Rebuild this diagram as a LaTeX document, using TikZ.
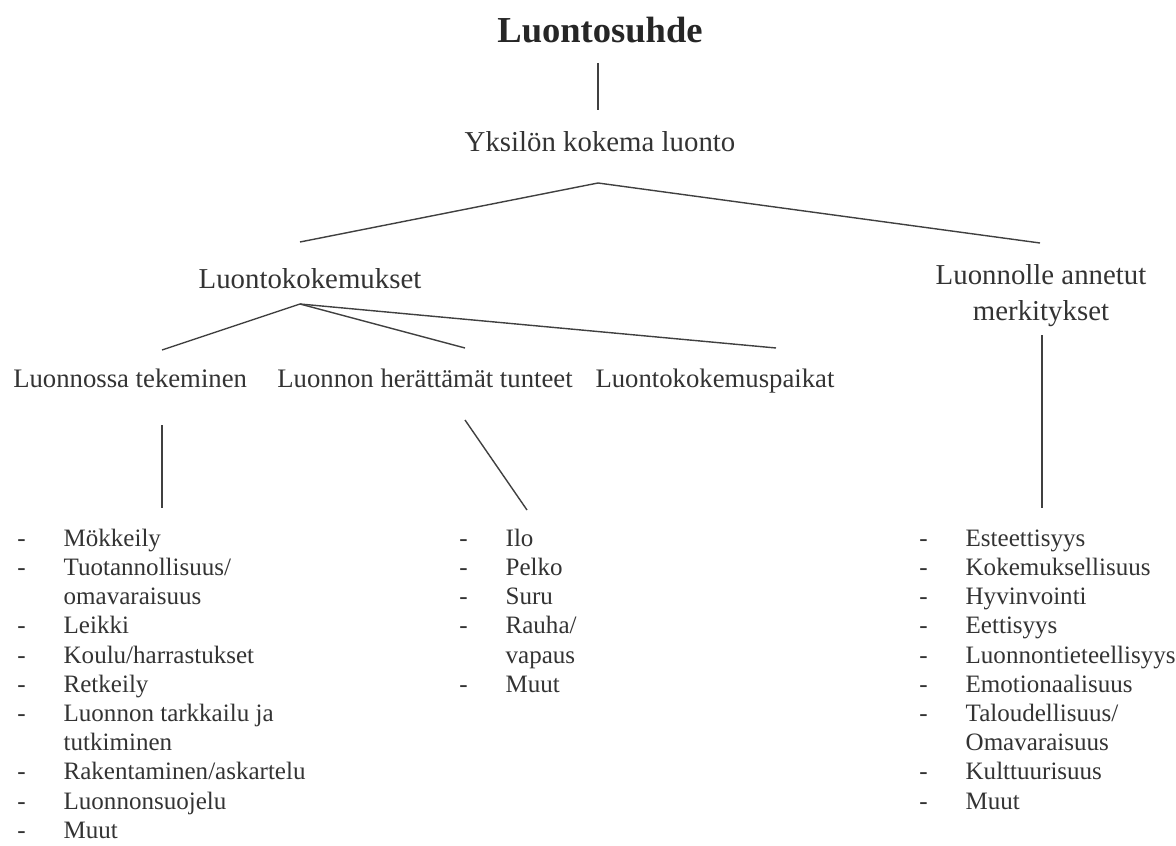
\documentclass[tikz,border=0pt]{standalone}
\usepackage{fontspec}
\setmainfont{Liberation Serif}
\usetikzlibrary{positioning}
\usetikzlibrary{calc}

\begin{document}
\begin{tikzpicture}[x=0.025cm, y=-0.025cm,
                titlenode/.style={inner sep=0pt, anchor=base, text=black!85, font=\fontsize{26}{31}\selectfont\bfseries},
                labelnode/.style={inner sep=0pt, anchor=base, text=black!80, font=\fontsize{20.5}{25.6}\selectfont},
                sublabelnode/.style={inner sep=0pt, anchor=base, text=black!80, font=\fontsize{19}{23}\selectfont},
                listnode/.style={inner sep=0pt, anchor=base west, text=black!80, font=\fontsize{17.8}{20.8}\selectfont},
                connector/.style={draw=black!75, line width=1pt},
                ]
                \useasboundingbox (0,0) rectangle (1176,846);

                \node[titlenode] (title) at (600,43) {Luontosuhde};
                \node[labelnode] (yksilo) at (600,152) {Yksilön kokema luonto};
                \node[labelnode] (kokemukset) at (310,289) {Luontokokemukset};
                \node[labelnode] (merkitykset) at (1041,285) {\begin{tabular}[t]{@{}c@{}}Luonnolle annetut\\merkitykset\end{tabular}};

                \node[sublabelnode, anchor=base west] (tekeminen) at (13,387) {Luonnossa tekeminen};
                \node[sublabelnode] (tunteet) at (425,387) {Luonnon herättämät tunteet};
                \node[sublabelnode] (paikat) at (715,387) {Luontokokemuspaikat};

                % lists
                \node[listnode] (tekemiset) at (17,546) {\begin{tabular}[t]{@{}p{33pt}@{}l@{}}
                    - & Mökkeily\\
                    - & Tuotannollisuus/\\
                      & omavaraisuus\\
                    - & Leikki\\
                    - & Koulu/harrastukset\\
                    - & Retkeily\\
                    - & Luonnon tarkkailu ja\\
                      & tutkiminen\\
                    - & Rakentaminen/askartelu\\
                    - & Luonnonsuojelu\\
                    - & Muut
                \end{tabular}};
                \node[listnode] (tunnelista) at (459,546) {\begin{tabular}[t]{@{}p{33pt}@{}l@{}}
                    - & Ilo\\
                    - & Pelko\\
                    - & Suru\\
                    - & Rauha/\\
                      & vapaus\\
                    - & Muut
                \end{tabular}};
                \node[listnode] (merkityslista) at (919,546) {\begin{tabular}[t]{@{}p{33pt}@{}l@{}}
                    - & Esteettisyys\\
                    - & Kokemuksellisuus\\
                    - & Hyvinvointi\\
                    - & Eettisyys\\
                    - & Luonnontieteellisyys\\
                    - & Emotionaalisuus\\
                    - & Taloudellisuus/\\
                      & Omavaraisuus\\
                    - & Kulttuurisuus\\
                    - & Muut
                \end{tabular}};

                \draw[connector] ($(title.base)+(-2,20)$) -- ($(yksilo.base)+(-2,-42)$);
                \draw[connector] ($(kokemukset.base)+(-10,-47)$) -- ($(yksilo.base)+(-2,31)$) -- ($(merkitykset.base)+(-1,-42)$);

                \draw[connector] ($(kokemukset.base)+(-10,15)$) -- ($(tekeminen.base west)+(149,-37)$);
                \draw[connector] ($(kokemukset.base)+(-10,15)$) -- ($(tunteet.base)+(40,-39)$);
                \draw[connector] ($(kokemukset.base)+(-10,15)$) -- ($(paikat.base)+(61,-39)$);

                \draw[connector] ($(tekeminen.base west)+(149,38)$) -- ($(tekemiset.base west)+(145,-38)$);
                \draw[connector] ($(tunteet.base)+(40,33)$) -- ($(tunnelista.base west)+(68,-36)$);
                \draw[connector] ($(merkitykset.base)+(1,50)$) -- ($(merkityslista.base west)+(123,-38)$);
            \end{tikzpicture}
\end{document}
